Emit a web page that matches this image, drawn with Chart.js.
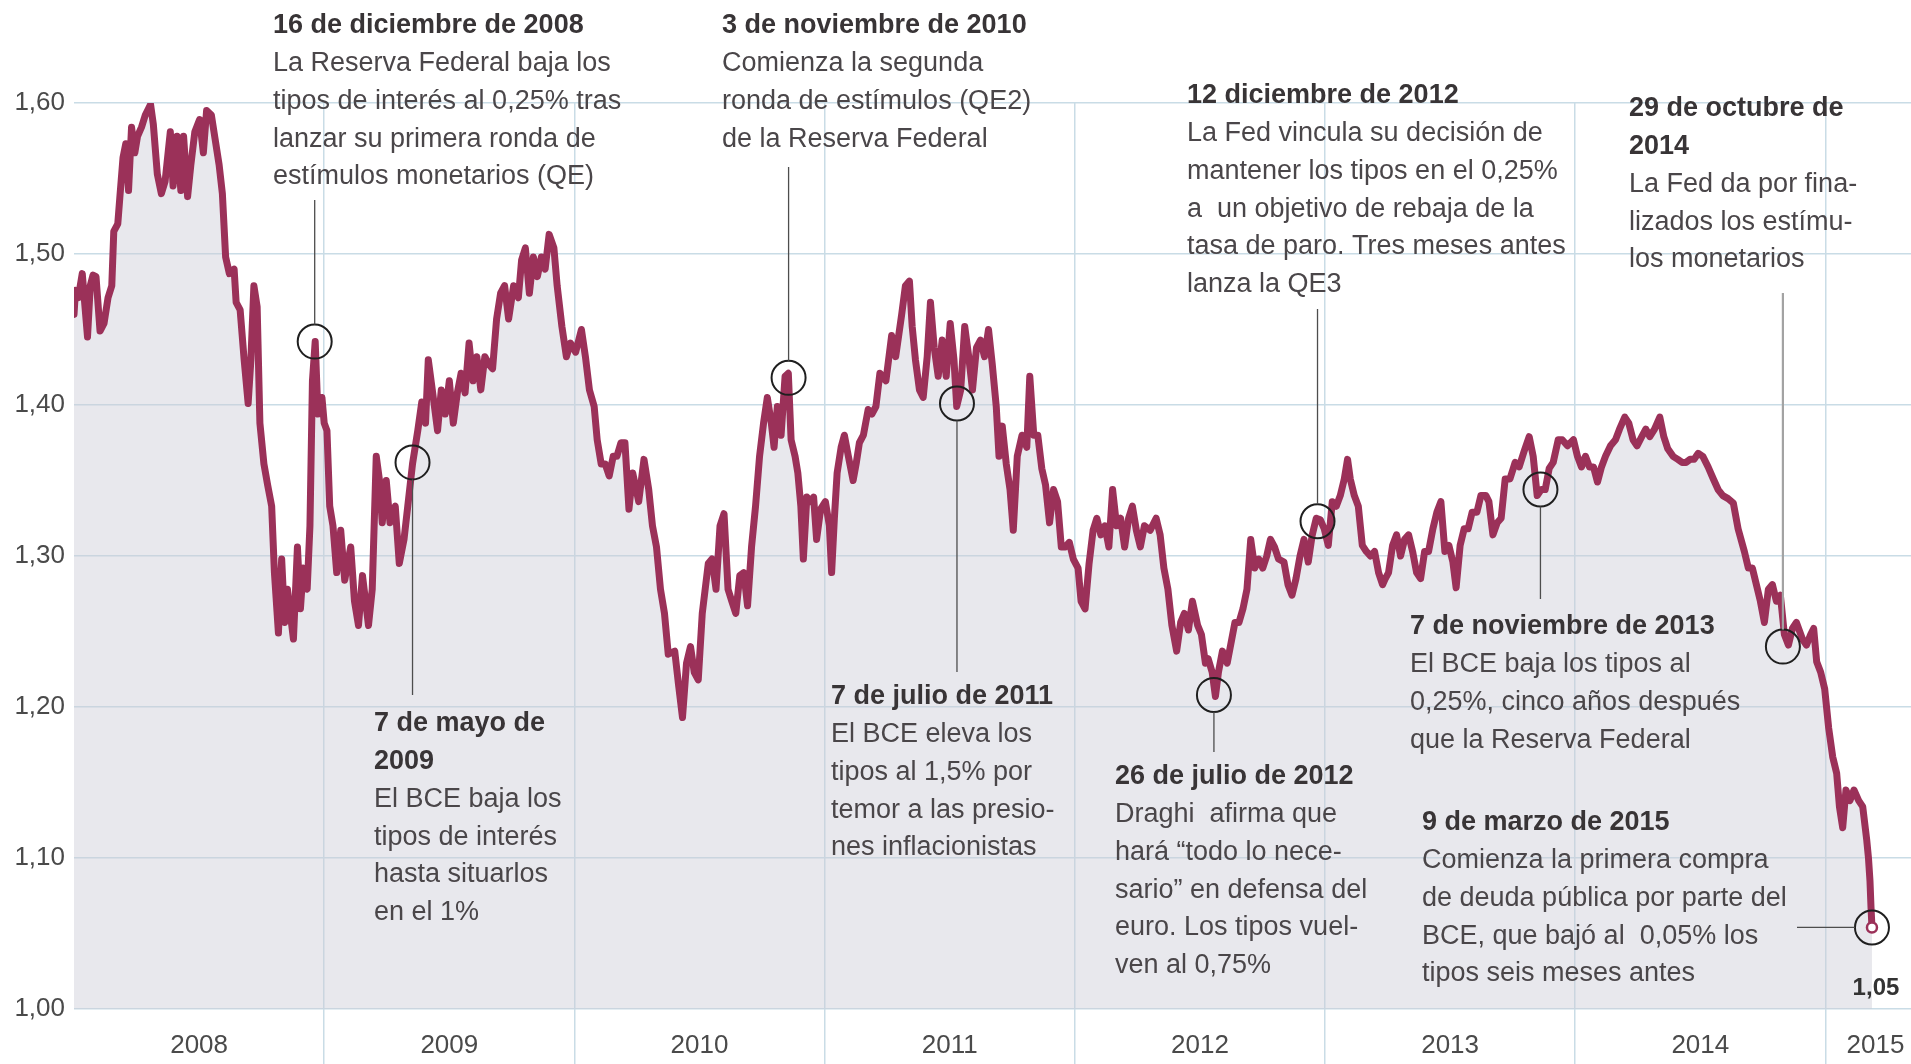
<!DOCTYPE html>
<html lang="es">
<head>
<meta charset="utf-8">
<title>Euro frente al dólar 2008-2015</title>
<script src="https://cdn.jsdelivr.net/npm/chart.js@4.4.1/dist/chart.umd.min.js"></script>
<style>
  html, body { margin: 0; padding: 0; background: #fff; }
  canvas { display: block; }
</style>
</head>
<body>
<canvas id="chart" width="1911" height="1064"></canvas>
<script>
// cambio euro / dólar (fecha en años decimales)
const dates = [
  2008.000, 2008.006, 2008.017, 2008.033, 2008.044, 2008.054, 2008.065, 2008.076, 2008.088, 2008.104,
  2008.120, 2008.136, 2008.151, 2008.159, 2008.175, 2008.183, 2008.196, 2008.207, 2008.218, 2008.230,
  2008.243, 2008.254, 2008.270, 2008.285, 2008.306, 2008.317, 2008.333, 2008.349, 2008.364, 2008.385,
  2008.396, 2008.412, 2008.427, 2008.438, 2008.454, 2008.467, 2008.483, 2008.502, 2008.517, 2008.530,
  2008.549, 2008.565, 2008.580, 2008.593, 2008.606, 2008.621, 2008.640, 2008.648, 2008.664, 2008.680,
  2008.696, 2008.707, 2008.719, 2008.732, 2008.743, 2008.759, 2008.774, 2008.790, 2008.801, 2008.817,
  2008.830, 2008.842, 2008.853, 2008.877, 2008.893, 2008.905, 2008.916, 2008.932, 2008.943, 2008.953,
  2008.964, 2008.975, 2008.991,
  2009.000, 2009.011, 2009.022, 2009.035, 2009.050, 2009.066, 2009.082, 2009.106, 2009.121, 2009.137,
  2009.153, 2009.177, 2009.192, 2009.208, 2009.221, 2009.232, 2009.248, 2009.263, 2009.284, 2009.300,
  2009.319, 2009.334, 2009.353, 2009.374, 2009.390, 2009.405, 2009.416, 2009.432, 2009.453, 2009.468,
  2009.484, 2009.500, 2009.516, 2009.532, 2009.547, 2009.563, 2009.579, 2009.595, 2009.610, 2009.626,
  2009.642, 2009.658, 2009.673, 2009.689, 2009.705, 2009.721, 2009.737, 2009.757, 2009.776, 2009.789,
  2009.804, 2009.820, 2009.836, 2009.852, 2009.868, 2009.883, 2009.899, 2009.918, 2009.931, 2009.950,
  2009.968, 2009.984,
  2010.005, 2010.028, 2010.044, 2010.060, 2010.079, 2010.091, 2010.107, 2010.123, 2010.139, 2010.155,
  2010.170, 2010.186, 2010.202, 2010.218, 2010.233, 2010.257, 2010.278, 2010.297, 2010.312, 2010.328,
  2010.344, 2010.360, 2010.375, 2010.401, 2010.416, 2010.432, 2010.448, 2010.464, 2010.479, 2010.495,
  2010.511, 2010.535, 2010.550, 2010.566, 2010.582, 2010.598, 2010.614, 2010.629, 2010.645, 2010.661,
  2010.677, 2010.692, 2010.708, 2010.724, 2010.740, 2010.756, 2010.771, 2010.787, 2010.798, 2010.811,
  2010.826, 2010.842, 2010.855, 2010.866, 2010.882, 2010.893, 2010.905, 2010.915, 2010.929, 2010.945,
  2010.956, 2010.968, 2010.984,
  2011.003, 2011.019, 2011.028, 2011.039, 2011.050, 2011.066, 2011.079, 2011.095, 2011.114, 2011.126,
  2011.139, 2011.155, 2011.174, 2011.189, 2011.205, 2011.221, 2011.245, 2011.268, 2011.284, 2011.308,
  2011.323, 2011.339, 2011.350, 2011.363, 2011.379, 2011.394, 2011.410, 2011.423, 2011.438, 2011.454,
  2011.470, 2011.486, 2011.502, 2011.517, 2011.528, 2011.544, 2011.560, 2011.576, 2011.591, 2011.607,
  2011.623, 2011.639, 2011.655, 2011.670, 2011.686, 2011.697, 2011.710, 2011.726, 2011.741, 2011.754,
  2011.770, 2011.789, 2011.808, 2011.820, 2011.836, 2011.852, 2011.868, 2011.883, 2011.899, 2011.915,
  2011.931, 2011.946, 2011.962, 2011.978, 2011.994,
  2012.013, 2012.025, 2012.041, 2012.057, 2012.073, 2012.088, 2012.104, 2012.120, 2012.136, 2012.151,
  2012.167, 2012.183, 2012.199, 2012.215, 2012.230, 2012.246, 2012.262, 2012.278, 2012.301, 2012.325,
  2012.341, 2012.356, 2012.372, 2012.388, 2012.407, 2012.423, 2012.438, 2012.454, 2012.470, 2012.491,
  2012.506, 2012.522, 2012.533, 2012.549, 2012.562, 2012.574, 2012.590, 2012.609, 2012.625, 2012.640,
  2012.656, 2012.672, 2012.688, 2012.703, 2012.719, 2012.735, 2012.751, 2012.767, 2012.782, 2012.798,
  2012.814, 2012.836, 2012.852, 2012.868, 2012.884, 2012.900, 2012.916, 2012.933, 2012.949, 2012.965,
  2012.981, 2012.997,
  2013.013, 2013.029, 2013.045, 2013.061, 2013.077, 2013.090, 2013.101, 2013.117, 2013.133, 2013.149,
  2013.165, 2013.182, 2013.198, 2013.214, 2013.230, 2013.241, 2013.254, 2013.270, 2013.286, 2013.302,
  2013.318, 2013.334, 2013.350, 2013.366, 2013.382, 2013.398, 2013.414, 2013.431, 2013.447, 2013.463,
  2013.479, 2013.495, 2013.511, 2013.524, 2013.540, 2013.556, 2013.572, 2013.588, 2013.607, 2013.623,
  2013.643, 2013.655, 2013.671, 2013.688, 2013.704, 2013.720, 2013.739, 2013.760, 2013.776, 2013.797,
  2013.816, 2013.832, 2013.848, 2013.864, 2013.880, 2013.896, 2013.912, 2013.932, 2013.948, 2013.969,
  2013.993,
  2014.009, 2014.025, 2014.041, 2014.057, 2014.073, 2014.089, 2014.105, 2014.121, 2014.141, 2014.161,
  2014.177, 2014.198, 2014.214, 2014.231, 2014.247, 2014.266, 2014.282, 2014.298, 2014.317, 2014.338,
  2014.354, 2014.370, 2014.391, 2014.410, 2014.427, 2014.443, 2014.459, 2014.475, 2014.491, 2014.510,
  2014.531, 2014.552, 2014.571, 2014.590, 2014.611, 2014.632, 2014.651, 2014.676, 2014.692, 2014.708,
  2014.724, 2014.740, 2014.756, 2014.772, 2014.788, 2014.804, 2014.820, 2014.836, 2014.852, 2014.868,
  2014.884, 2014.908, 2014.924, 2014.941, 2014.953, 2014.965, 2014.981, 2014.997,
  2015.013, 2015.029, 2015.045, 2015.056, 2015.069, 2015.082, 2015.098, 2015.114, 2015.133, 2015.149,
  2015.165, 2015.172, 2015.178, 2015.182, 2015.186,
]
const rates = [
  1.460, 1.476, 1.471, 1.487, 1.465, 1.445, 1.479, 1.486, 1.485, 1.449,
  1.454, 1.471, 1.479, 1.515, 1.520, 1.537, 1.564, 1.573, 1.542, 1.584,
  1.567, 1.578, 1.584, 1.592, 1.599, 1.586, 1.553, 1.540, 1.548, 1.581,
  1.545, 1.578, 1.542, 1.578, 1.538, 1.559, 1.581, 1.589, 1.567, 1.595,
  1.592, 1.575, 1.559, 1.540, 1.498, 1.487, 1.490, 1.468, 1.463, 1.430,
  1.401, 1.430, 1.479, 1.465, 1.388, 1.361, 1.347, 1.333, 1.289, 1.249,
  1.298, 1.256, 1.278, 1.245, 1.306, 1.265, 1.292, 1.278, 1.320, 1.416,
  1.442, 1.394, 1.405,
  1.388, 1.383, 1.333, 1.320, 1.289, 1.317, 1.284, 1.306, 1.270, 1.254,
  1.287, 1.254, 1.278, 1.366, 1.350, 1.322, 1.350, 1.322, 1.333, 1.295,
  1.311, 1.333, 1.361, 1.383, 1.402, 1.388, 1.430, 1.410, 1.383, 1.410,
  1.394, 1.416, 1.388, 1.408, 1.421, 1.408, 1.441, 1.416, 1.432, 1.410,
  1.432, 1.427, 1.424, 1.457, 1.474, 1.479, 1.457, 1.479, 1.471, 1.496,
  1.504, 1.474, 1.498, 1.485, 1.498, 1.490, 1.513, 1.504, 1.479, 1.452,
  1.432, 1.441,
  1.435, 1.450, 1.432, 1.410, 1.399, 1.377, 1.361, 1.361, 1.353, 1.366,
  1.366, 1.375, 1.375, 1.331, 1.355, 1.336, 1.364, 1.344, 1.320, 1.306,
  1.278, 1.262, 1.235, 1.237, 1.215, 1.193, 1.229, 1.240, 1.223, 1.218,
  1.262, 1.295, 1.298, 1.278, 1.320, 1.328, 1.278, 1.270, 1.262, 1.287,
  1.289, 1.267, 1.306, 1.333, 1.366, 1.388, 1.405, 1.388, 1.372, 1.399,
  1.380, 1.419, 1.421, 1.377, 1.366, 1.355, 1.333, 1.298, 1.339, 1.336,
  1.339, 1.311, 1.331,
  1.336, 1.320, 1.289, 1.325, 1.355, 1.372, 1.380, 1.366, 1.350, 1.361,
  1.375, 1.380, 1.397, 1.394, 1.399, 1.421, 1.416, 1.446, 1.432, 1.460,
  1.479, 1.482, 1.452, 1.430, 1.410, 1.405, 1.432, 1.468, 1.438, 1.419,
  1.443, 1.419, 1.454, 1.430, 1.399, 1.410, 1.452, 1.432, 1.410, 1.438,
  1.443, 1.432, 1.450, 1.427, 1.399, 1.366, 1.386, 1.361, 1.344, 1.317,
  1.366, 1.380, 1.372, 1.419, 1.380, 1.380, 1.358, 1.347, 1.322, 1.344,
  1.336, 1.306, 1.306, 1.309, 1.298,
  1.292, 1.270, 1.265, 1.295, 1.317, 1.325, 1.314, 1.320, 1.306, 1.344,
  1.320, 1.325, 1.306, 1.325, 1.333, 1.317, 1.306, 1.320, 1.317, 1.325,
  1.314, 1.292, 1.278, 1.254, 1.237, 1.256, 1.262, 1.251, 1.270, 1.254,
  1.248, 1.229, 1.232, 1.223, 1.207, 1.223, 1.237, 1.229, 1.243, 1.256,
  1.256, 1.265, 1.278, 1.311, 1.292, 1.298, 1.292, 1.300, 1.311, 1.306,
  1.298, 1.296, 1.281, 1.274, 1.285, 1.300, 1.311, 1.296, 1.314, 1.325,
  1.324, 1.318,
  1.307, 1.336, 1.333, 1.340, 1.351, 1.364, 1.351, 1.340, 1.333, 1.307,
  1.303, 1.300, 1.303, 1.289, 1.281, 1.285, 1.289, 1.307, 1.314, 1.300,
  1.311, 1.314, 1.303, 1.289, 1.285, 1.303, 1.303, 1.318, 1.329, 1.336,
  1.303, 1.307, 1.296, 1.279, 1.307, 1.318, 1.318, 1.329, 1.329, 1.340,
  1.340, 1.336, 1.314, 1.322, 1.325, 1.351, 1.351, 1.362, 1.359, 1.370,
  1.379, 1.366, 1.340, 1.344, 1.344, 1.358, 1.362, 1.377, 1.377, 1.373,
  1.377,
  1.366, 1.359, 1.366, 1.359, 1.359, 1.349, 1.359, 1.366, 1.373, 1.377,
  1.384, 1.392, 1.388, 1.377, 1.373, 1.379, 1.384, 1.379, 1.384, 1.392,
  1.379, 1.371, 1.366, 1.364, 1.362, 1.362, 1.364, 1.364, 1.368, 1.366,
  1.359, 1.351, 1.344, 1.340, 1.338, 1.335, 1.318, 1.303, 1.292, 1.292,
  1.281, 1.270, 1.256, 1.278, 1.281, 1.270, 1.274, 1.248, 1.241, 1.252,
  1.256, 1.245, 1.241, 1.248, 1.252, 1.230, 1.223, 1.212,
  1.186, 1.167, 1.156, 1.134, 1.120, 1.145, 1.138, 1.145, 1.138, 1.134,
  1.112, 1.100, 1.085, 1.068, 1.054,
]

const yearLines = [2009, 2010, 2011, 2012, 2013, 2014, 2015]
const yearLabels = ['2008', '2009', '2010', '2011', '2012', '2013', '2014', '2015']
const yearLabelAt = [2008.5, 2009.5, 2010.5, 2011.5, 2012.5, 2013.5, 2014.5, 2015.2]
const yTicks = [1.0, 1.1, 1.2, 1.3, 1.4, 1.5, 1.6]
const yTickLabels = ['1,00', '1,10', '1,20', '1,30', '1,40', '1,50', '1,60']

// fechas señaladas
const eventDates = [2008.962, 2009.353, 2010.856, 2011.529, 2012.556, 2012.970, 2013.861, 2014.830, 2015.186]
const eventRates = [1.442, 1.362, 1.418, 1.401, 1.208, 1.323, 1.344, 1.240, 1.054]
const eventTitles = [
  ['16 de diciembre de 2008'],
  ['7 de mayo de', '2009'],
  ['3 de noviembre de 2010'],
  ['7 de julio de 2011'],
  ['26 de julio de 2012'],
  ['12 diciembre de 2012'],
  ['7 de noviembre de 2013'],
  ['29 de octubre de', '2014'],
  ['9 de marzo de 2015'],
]
const eventTexts = [
  ['La Reserva Federal baja los', 'tipos de interés al 0,25% tras', 'lanzar su primera ronda de', 'estímulos monetarios (QE)'],
  ['El BCE baja los', 'tipos de interés', 'hasta situarlos', 'en el 1%'],
  ['Comienza la segunda', 'ronda de estímulos (QE2)', 'de la Reserva Federal'],
  ['El BCE eleva los', 'tipos al 1,5% por', 'temor a las presio-', 'nes inflacionistas'],
  ['Draghi  afirma que', 'hará “todo lo nece-', 'sario” en defensa del', 'euro. Los tipos vuel-', 'ven al 0,75%'],
  ['La Fed vincula su decisión de', 'mantener los tipos en el 0,25%', 'a  un objetivo de rebaja de la', 'tasa de paro. Tres meses antes', 'lanza la QE3'],
  ['El BCE baja los tipos al', '0,25%, cinco años después', 'que la Reserva Federal'],
  ['La Fed da por fina-', 'lizados los estímu-', 'los monetarios'],
  ['Comienza la primera compra', 'de deuda pública por parte del', 'BCE, que bajó al  0,05% los', 'tipos seis meses antes'],
]
const lastLabel = '1,05'

// where each note sits (px): text left, first line centre, end of the leader line
const noteLayout = [
  { x: 273, y: 26, lead: 200 },
  { x: 374, y: 724, lead: 695 },
  { x: 722, y: 26, lead: 167 },
  { x: 831, y: 697, lead: 672 },
  { x: 1115, y: 777, lead: 752 },
  { x: 1187, y: 96, lead: 309 },
  { x: 1410, y: 627, lead: 599 },
  { x: 1629, y: 109, lead: 293, light: true },
  { x: 1422, y: 823, leadX: 1797 },
]

const FONT = '"Liberation Sans", Arial, Helvetica, sans-serif'
const LINE_H = 37.7
const CIRCLE_R = 17
const gridColor = '#c9dce6'
const lineColor = '#9b3159'

const notesPlugin = {
  id: 'notes',
  afterDraw(chart) {
    const { ctx } = chart
    const xs = chart.scales.x
    const ys = chart.scales.y
    ctx.save()
    noteLayout.forEach((n, i) => {
      const px = xs.getPixelForValue(eventDates[i])
      const py = ys.getPixelForValue(eventRates[i])
      ctx.beginPath()
      ctx.strokeStyle = n.light ? '#a3a3a3' : '#4d4d4d'
      ctx.lineWidth = n.light ? 2.2 : 1.3
      if (n.leadX !== undefined) {
        ctx.moveTo(n.leadX, py)
        ctx.lineTo(px - CIRCLE_R, py)
      } else if (n.lead < py) {
        ctx.moveTo(px, py - CIRCLE_R)
        ctx.lineTo(px, n.lead)
      } else {
        ctx.moveTo(px, py + CIRCLE_R)
        ctx.lineTo(px, n.lead)
      }
      ctx.stroke()

      ctx.textAlign = 'left'
      ctx.textBaseline = 'middle'
      let y = n.y
      ctx.fillStyle = '#383436'
      ctx.font = `bold 27px ${FONT}`
      eventTitles[i].forEach((t) => {
        ctx.fillText(t, n.x, y)
        y += LINE_H
      })
      ctx.fillStyle = '#4a4649'
      ctx.font = `27px ${FONT}`
      eventTexts[i].forEach((t) => {
        ctx.fillText(t, n.x, y)
        y += LINE_H
      })
    })

    const lx = xs.getPixelForValue(dates[dates.length - 1])
    const ly = ys.getPixelForValue(rates[rates.length - 1])
    ctx.fillStyle = '#333'
    ctx.font = `bold 24px ${FONT}`
    ctx.textAlign = 'center'
    ctx.fillText(lastLabel, lx + 4, ly + 61)
    ctx.restore()
  },
}

const config = {
  type: 'line',
  data: {
    datasets: [
      {
        label: 'Euro / dólar',
        data: dates.map((d, i) => ({ x: d, y: rates[i] })),
        borderColor: lineColor,
        borderWidth: 7,
        borderJoinStyle: 'round',
        borderCapStyle: 'round',
        backgroundColor: 'rgba(205, 205, 214, 0.45)',
        fill: 'start',
        pointRadius: 0,
        tension: 0,
        order: 3,
      },
      {
        label: 'Fechas',
        data: eventDates.map((d, i) => ({ x: d, y: eventRates[i] })),
        showLine: false,
        pointRadius: CIRCLE_R,
        pointBorderWidth: 2,
        pointBorderColor: '#1f1f1f',
        pointBackgroundColor: 'rgba(0,0,0,0)',
        clip: false,
        order: 2,
      },
      {
        label: 'Último',
        data: [{ x: dates[dates.length - 1], y: rates[rates.length - 1] }],
        showLine: false,
        pointRadius: 5,
        pointBorderWidth: 2.5,
        pointBorderColor: lineColor,
        pointBackgroundColor: '#fff',
        clip: false,
        order: 1,
      },
    ],
  },
  options: {
    responsive: false,
    animation: false,
    events: [],
    layout: { autoPadding: false, padding: { top: 103, left: 0, right: 0, bottom: 0 } },
    plugins: {
      legend: { display: false },
      tooltip: { enabled: false },
    },
    scales: {
      x: {
        type: 'linear',
        min: 2008,
        max: 2015.342,
        afterBuildTicks: (axis) => {
          axis.ticks = yearLines.concat(yearLabelAt).sort((a, b) => a - b).map((v) => ({ value: v }))
        },
        afterFit: (axis) => {
          axis.height = 55
          axis.paddingLeft = 0
          axis.paddingRight = 0
        },
        border: { display: false },
        grid: {
          color: (c) => (c.tick && yearLines.includes(c.tick.value) ? gridColor : 'rgba(0,0,0,0)'),
          lineWidth: 1.5,
          drawTicks: true,
          tickLength: 55,
        },
        ticks: {
          autoSkip: false,
          maxRotation: 0,
          padding: -34,
          color: '#4a4a4a',
          font: { family: FONT, size: 26 },
          callback: (v) => {
            const i = yearLabelAt.indexOf(v)
            return i < 0 ? '' : yearLabels[i]
          },
        },
      },
      y: {
        min: 1.0,
        max: 1.6,
        afterBuildTicks: (axis) => {
          axis.ticks = yTicks.map((v) => ({ value: v }))
        },
        afterFit: (axis) => {
          axis.width = 74
          axis.paddingTop = 0
          axis.paddingBottom = 0
        },
        border: { display: false },
        grid: { color: gridColor, lineWidth: 1.5, drawTicks: false },
        ticks: {
          padding: 9,
          color: '#4a4a4a',
          font: { family: FONT, size: 26 },
          callback: (v) => yTickLabels[yTicks.findIndex((t) => Math.abs(t - v) < 1e-6)],
        },
      },
    },
  },
  plugins: [notesPlugin],
}

new Chart(document.getElementById('chart'), config)
</script>
</body>
</html>
